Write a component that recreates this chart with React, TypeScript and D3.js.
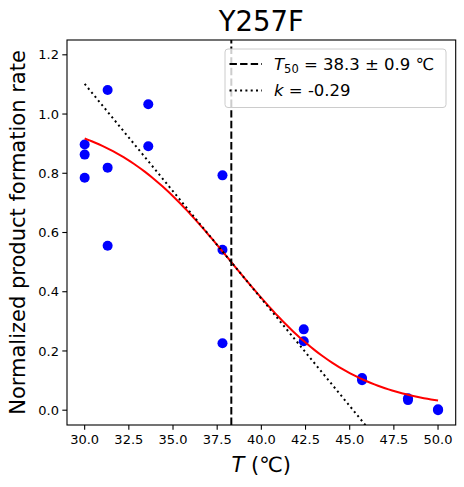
import React from 'react';
import * as d3 from 'd3';

// measured activity (normalized) per assay temperature
const temps = [30, 30, 30, 31.3, 31.3, 31.3, 33.6, 33.6, 37.8, 37.8, 37.8, 42.4, 42.4, 45.7, 45.7, 48.3, 48.3, 50, 50];
const rates = [0.897, 0.863, 0.785, 1.081, 0.819, 0.555, 1.033, 0.891, 0.793, 0.542, 0.226, 0.273, 0.233, 0.109, 0.101, 0.04, 0.034, 0.003, 0.0];

// fitted sigmoid parameters (as given in the legend)
const T50 = 38.3;
const T50_ERR = 0.9;
const K = -0.29;

const xTicks = [30, 32.5, 35, 37.5, 40, 42.5, 45, 47.5, 50];
const yTicks = [0, 0.2, 0.4, 0.6, 0.8, 1.0, 1.2];

const W = 464;
const H = 487;
const margin = { left: 67, right: 8.3, top: 40, bottom: 62 };
const FONT = "'DejaVu Sans', sans-serif";

export default function App() {
  const x = d3.scaleLinear().domain([29, 51]).range([margin.left, W - margin.right]);
  const y = d3.scaleLinear().domain([-0.05, 1.25]).range([H - margin.bottom, margin.top]);

  const sigmoid = (t: number) => 1 / (1 + Math.exp(-K * (t - T50)));
  const fitX = d3.range(30, 50.001, 0.2);
  const line = d3.line<[number, number]>().x(d => x(d[0])).y(d => y(d[1]));
  const fitPath = line(fitX.map(t => [t, sigmoid(t)] as [number, number])) || '';
  const tangent = (t: number) => 0.5 + (K / 4) * (t - T50);
  const tangentPath = line([30, 50].map(t => [t, tangent(t)] as [number, number])) || '';

  const [x0, x1] = x.range();
  const [y0, y1] = y.range();

  const legendX = 225;
  const legendY = 49;

  return (
    <svg width={W} height={H} style={{ position: 'absolute', left: 0, top: 0, background: '#fff' }} fontFamily={FONT}>
      <defs>
        <clipPath id="plot-area">
          <rect x={x0} y={y1} width={x1 - x0} height={y0 - y1} />
        </clipPath>
      </defs>

      <g clipPath="url(#plot-area)">
        {temps.map((t, i) => (
          <circle key={i} cx={x(t)} cy={y(rates[i])} r={5} fill="#0000ff" />
        ))}
        <path d={fitPath} fill="none" stroke="#ff0000" strokeWidth={2} />
        <line x1={x(T50)} x2={x(T50)} y1={y0} y2={y1} stroke="#000" strokeWidth={2} strokeDasharray="7.4 3.2" />
        <path d={tangentPath} fill="none" stroke="#000" strokeWidth={2} strokeDasharray="2 3.3" />
      </g>

      {/* frame */}
      <rect x={x0} y={y1} width={x1 - x0} height={y0 - y1} fill="none" stroke="#000" strokeWidth={1.1} />

      {/* x axis */}
      {xTicks.map(t => (
        <g key={t} transform={`translate(${x(t)},${y0})`}>
          <line y2={4.7} stroke="#000" strokeWidth={1.1} />
          <text y={19} textAnchor="middle" fontSize={13} fill="#000">{t.toFixed(1)}</text>
        </g>
      ))}
      {/* y axis */}
      {yTicks.map(t => (
        <g key={t} transform={`translate(${x0},${y(t)})`}>
          <line x2={-4.7} stroke="#000" strokeWidth={1.1} />
          <text x={-8} dy="0.35em" textAnchor="end" fontSize={13} fill="#000">{t.toFixed(1)}</text>
        </g>
      ))}

      <text x={(x0 + x1) / 2} y={472} textAnchor="middle" fontSize={21} fill="#000">
        <tspan fontStyle="italic">T</tspan> (℃)
      </text>
      <text transform={`translate(25,${(y0 + y1) / 2}) rotate(-90)`} textAnchor="middle" fontSize={21} fill="#000">
        Normalized product formation rate
      </text>
      <text x={(x0 + x1) / 2} y={31} textAnchor="middle" fontSize={27.5} fill="#000">Y257F</text>

      {/* legend */}
      <g transform={`translate(${legendX},${legendY})`}>
        <rect width={221} height={58.5} rx={3} fill="#fff" fillOpacity={0.8} stroke="#cccccc" strokeWidth={1} />
        <line x1={4.5} x2={37} y1={15} y2={15} stroke="#000" strokeWidth={2} strokeDasharray="7.4 3.2" />
        <line x1={4.5} x2={37} y1={41.5} y2={41.5} stroke="#000" strokeWidth={2} strokeDasharray="2 3.3" />
        <text x={49} y={20.5} fontSize={16.5} fill="#000">
          <tspan fontStyle="italic">T</tspan>
          <tspan fontSize={11.5} dy={3}>50</tspan>
          <tspan dy={-3}>{` = ${T50} ± ${T50_ERR} ℃`}</tspan>
        </text>
        <text x={49} y={47} fontSize={16.5} fill="#000">
          <tspan fontStyle="italic">k</tspan>
          {` = ${K}`}
        </text>
      </g>
    </svg>
  );
}
